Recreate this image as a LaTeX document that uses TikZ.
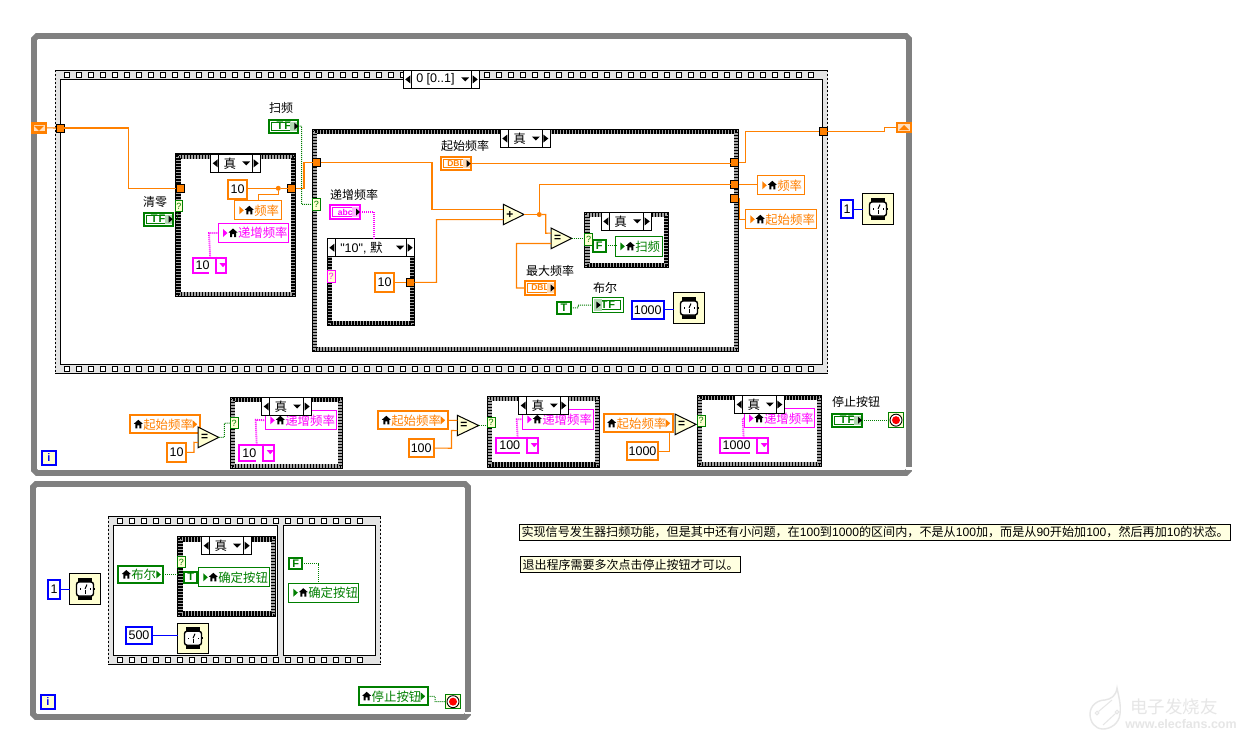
\documentclass[tikz,border=0pt]{standalone}
\usepackage{fontspec}
\setmainfont{Noto Sans CJK SC}
\newfontfamily\lat{Liberation Sans}
\usetikzlibrary{calc}
\definecolor{og}{HTML}{FF8000}
\definecolor{gn}{HTML}{007F00}
\definecolor{mg}{HTML}{FF00FF}
\definecolor{bl}{HTML}{0000FF}
\definecolor{wf}{HTML}{808080}
\definecolor{pale}{HTML}{FFFFD2}
\definecolor{band}{HTML}{E4E4E4}
\definecolor{notefill}{HTML}{FFFFE1}
\definecolor{wm}{HTML}{E6E6E6}
\tikzset{
  lab/.style={font=\fontsize{12}{14}\selectfont,inner sep=0pt,text=black},
  owire/.style={og,line width=1.1},
  gwire/.style={gn,line width=1,dash pattern=on 1pt off 1pt},
  mwire/.style={mg,line width=1.8,dash pattern=on 1pt off 1pt},
  bwire/.style={bl,line width=1.1},
  chk/.style={black,line width=1.5,dash pattern=on 1.5pt off 1.5pt},
  note/.style={draw=black,line width=1,fill=notefill,text=black}
}
\newcommand\tfword{\fontsize{11}{11}\selectfont T\kern1pt F}
% inset, name, style, x1,y1,x2,y2, text
\newcommand\bxi[8]{%
  \pgfmathsetmacro\bxW{#6-#4-2*#1}\pgfmathsetmacro\bxH{#7-#5-2*#1}%
  \pgfmathsetmacro\bxCx{(#4+#6)/2}\pgfmathsetmacro\bxCy{(#5+#7)/2}%
  \node[minimum width=\bxW pt,minimum height=\bxH pt,inner sep=0pt,outer sep=0pt,#3] (#2) at (\bxCx,\bxCy) {#8};}
\newcommand\caseframe[5]{%
  \bxi{0}{#1}{fill=white}{#2}{#3}{#4}{#5}{}
  \draw[gray!70,line width=4.4] ($(#1.north west)+(2.8,2.8)$) rectangle ($(#1.south east)+(-2.8,-2.8)$);
  \draw[chk] ($(#1.north west)+(1.3,1.3)$) rectangle ($(#1.south east)+(-1.3,-1.3)$);
  \draw[chk,dash phase=1.5pt] ($(#1.north west)+(2.8,2.8)$) rectangle ($(#1.south east)+(-2.8,-2.8)$);
  \draw[chk] ($(#1.north west)+(4.3,4.3)$) rectangle ($(#1.south east)+(-4.3,-4.3)$);
  \draw[black,line width=1.2] (#1.north west) rectangle (#1.south east);}
% name, x1, x2, ytop, text
\newcommand\casesel[5]{%
  \pgfmathsetmacro\selB{#4+18}%
  \bxi{0}{#1}{draw=black,line width=1.1,fill=white,text=black,font=\fontsize{12.5}{14}\selectfont}{#2}{#4}{#3}{\selB}{\makebox[\bxW pt][l]{\hspace*{13pt}#5}}
  \draw[black,line width=1] ($(#1.north west)+(8,0)$) -- ($(#1.south west)+(8,0)$);
  \draw[black,line width=1] ($(#1.north east)+(-8,0)$) -- ($(#1.south east)+(-8,0)$);
  \fill[black] ($(#1.west)+(2,0)$) -- ($(#1.west)+(7,-4)$) -- ($(#1.west)+(7,4)$) -- cycle;
  \fill[black] ($(#1.east)+(-2,0)$) -- ($(#1.east)+(-7,-4)$) -- ($(#1.east)+(-7,4)$) -- cycle;
  \fill[black] ($(#1.east)+(-18.5,-2)$) -- ($(#1.east)+(-10.5,-2)$) -- ($(#1.east)+(-14.5,2)$) -- cycle;}
\newcommand\seqband[5]{%
  \bxi{0}{#1}{fill=band}{#2}{#3}{#4}{#5}{}
  \draw[black,line width=1] (#1.north west) -- (#1.north east);
  \draw[black,line width=1] (#1.south west) -- (#1.south east);
  \draw[black,line width=1,dash pattern=on 2pt off 2pt] (#1.north west) -- (#1.south west);
  \draw[black,line width=1,dash pattern=on 2pt off 2pt] (#1.north east) -- (#1.south east);
  \pgfmathsetmacro\sqa{#2+12}\pgfmathsetmacro\sqb{#2+24}\pgfmathsetmacro\sqe{#4-9}%
  \pgfmathsetmacro\sqt{#3+4.5}\pgfmathsetmacro\sqd{#5-4.5}%
  \foreach \sx in {\sqa,\sqb,...,\sqe}{
    \draw[black,line width=1,fill=white] (\sx-2.5,\sqt-2.5) rectangle (\sx+2.5,\sqt+2.5);
    \draw[black,line width=1,fill=white] (\sx-2.5,\sqd-2.5) rectangle (\sx+2.5,\sqd+2.5);}}
\newcommand\tun[3]{%
  \node[minimum size=8pt,inner sep=0pt,outer sep=0pt,draw=black,line width=1,fill=og] (#1) at (#2,#3) {};}
\newcommand\qterm[6]{%
  \bxi{0}{#1}{draw=#6,line width=.8,fill=pale,text=#6,font=\lat\fontsize{9}{9}\selectfont}{#2}{#3}{#4}{#5}{?}}
\newcommand\waiticon[5]{%
  \bxi{.5}{#1}{draw=black,line width=1,fill=pale}{#2}{#3}{#4}{#5}{}
  \fill[black] ($(#1.center)+(-7,-11)$) rectangle ($(#1.center)+(7,-6)$);
  \fill[black] ($(#1.center)+(-7,6)$) rectangle ($(#1.center)+(7,11)$);
  \fill[black] ($(#1.center)+(8,-1)$) rectangle ($(#1.center)+(10,1)$);
  \draw[black,line width=1.4,fill=white,rounded corners=2.5pt] ($(#1.center)+(-8.5,-7)$) rectangle ($(#1.center)+(8.5,7)$);
  \draw[black,line width=1] ($(#1.center)+(0,0)$) -- ($(#1.center)+(2,-4.5)$);
  \draw[black,line width=1] ($(#1.center)+(0,1)$) -- ($(#1.center)+(0,4.5)$);
  \fill[black] ($(#1.center)+(-5,-.6)$) rectangle ($(#1.center)+(-4,.6)$);
  \fill[black] ($(#1.center)+(4.5,-.6)$) rectangle ($(#1.center)+(5.5,.6)$);}
\newcommand\stopicon[5]{%
  \bxi{.5}{#1}{draw=gn,line width=1,fill=pale}{#2}{#3}{#4}{#5}{}
  \draw[black,line width=.9,fill=white] (#1.center) circle (6pt);
  \fill[red] (#1.center) circle (4pt);}
\newcommand\lvhome[2]{%
  \fill[black,shift={($(#1.west)+(#2,0)$)}] (-4.5,-.5) -- (0,-4.5) -- (4.5,-.5) -- (3,-.5) -- (3,4) -- (1,4) -- (1,1) -- (-1,1) -- (-1,4) -- (-3,4) -- (-3,-.5) -- cycle;}
\newcommand\lvw[7]{%
  \bxi{.5}{#1}{draw=#6,line width=1,fill=white,text=#6,font=\fontsize{12.4}{14}\selectfont}{#2}{#3}{#4}{#5}{\makebox[\bxW pt][l]{\hspace*{19.5pt}#7}}
  \fill[#6] ($(#1.west)+(4.5,-4)$) -- ($(#1.west)+(4.5,4)$) -- ($(#1.west)+(9,0)$) -- cycle;
  \lvhome{#1}{14.5}}
\newcommand\lvr[7]{%
  \bxi{1}{#1}{draw=#6,line width=2,fill=white,text=#6,font=\fontsize{12.4}{14}\selectfont}{#2}{#3}{#4}{#5}{\makebox[\bxW pt][l]{\hspace*{13pt}#7}}
  \fill[#6] ($(#1.east)+(-7,-4)$) -- ($(#1.east)+(-7,4)$) -- ($(#1.east)+(-2.5,0)$) -- cycle;
  \lvhome{#1}{8}}
\newcommand\ctlc[8]{%
  \bxi{1}{#1}{draw=#6,line width=2,fill=white,text=#6,font=\lat\bfseries\selectfont}{#2}{#3}{#4}{#5}{#8}
  \draw[#6,line width=.8] ($(#1.north west)+(2.5,2.5)$) rectangle ($(#1.south east)+(-2.5,-2.5)$);
  \fill[#7] ($(#1.north east)+(-8,2)$) rectangle ($(#1.south east)+(-1,-2)$);
  \fill[black] ($(#1.east)+(-4,-3.5)$) -- ($(#1.east)+(-4,3.5)$) -- ($(#1.east)+(0,0)$) -- cycle;}
\newcommand\ctli[8]{%
  \bxi{.5}{#1}{draw=#6,line width=1,fill=white,text=#6,font=\lat\bfseries\selectfont}{#2}{#3}{#4}{#5}{#8}
  \draw[#6,line width=.8] ($(#1.north west)+(3,3)$) rectangle ($(#1.south east)+(-3,-3)$);
  \fill[#7] ($(#1.north west)+(1,1)$) rectangle ($(#1.south west)+(9,-1)$);
  \fill[black] ($(#1.west)+(3.5,-3.5)$) -- ($(#1.west)+(3.5,3.5)$) -- ($(#1.west)+(8,0)$) -- cycle;}
\newcommand\cst[7]{%
  \bxi{1}{#1}{draw=#2,line width=2,fill=white,text=black,font=\lat\fontsize{12.5}{14}\selectfont}{#3}{#4}{#5}{#6}{#7}}
\newcommand\bcst[7]{%
  \bxi{1}{#1}{draw=#2,line width=2.2,fill=white,text=#2,font=\lat\bfseries\fontsize{11}{11}\selectfont}{#3}{#4}{#5}{#6}{#7}}
% name x1 y1 x2 y2 divider text
\newcommand\dropd[7]{%
  \bxi{1}{#1}{draw=mg,line width=2,fill=white,text=black,font=\lat\fontsize{12.5}{14}\selectfont}{#2}{#3}{#4}{#5}{\makebox[\bxW pt][l]{\hspace*{3pt}#7}}
  \draw[mg,line width=2] (#6,#3) -- (#6,#5);
  \pgfmathsetmacro\ddg{#6-7}%
  \draw[white,line width=2.3] (\ddg,#5-1) -- (#6-1.2,#5-1);
  \fill[mg] (#6+3.5,#3+6.5) -- (#6+10.5,#3+6.5) -- (#6+7,#3+10.5) -- cycle;}
\newcommand\prim[6]{%
  \pgfmathsetmacro\prY{(#3+#5)/2}\pgfmathsetmacro\prA{#3+(#5-#3)*.25}\pgfmathsetmacro\prB{#3+(#5-#3)*.75}%
  \draw[black,line width=1,fill=pale] (#2,#3) -- (#4,\prY) -- (#2,#5) -- cycle;
  \bxi{0}{#1}{text=black,font=\lat\bfseries\fontsize{12}{12}\selectfont}{#2}{#3}{#4}{#5}{\makebox[\bxW pt][l]{\hspace*{3pt}#6}}
  \coordinate (#1-a) at (#2,\prA);
  \coordinate (#1-b) at (#2,\prB);}
\newcommand\ibox[5]{%
  \bxi{1}{#1}{draw=bl,line width=2,fill=pale,text=bl,font=\lat\bfseries\fontsize{11}{11}\selectfont}{#2}{#3}{#4}{#5}{i}}
\begin{document}
\begin{tikzpicture}[x=1pt,y=-1pt]
\useasboundingbox (0,0) rectangle (1237,740);
\fill[white] (0,0) rectangle (1237,740);
% ---------- outer while loops
\draw[wf,line width=5.8,fill=white] (34,39) -- (37,36) -- (906,36) -- (909,39) -- (909,470) -- (906,473) -- (37,473) -- (34,470) -- cycle;
\fill[white] (905.8,466.8) rectangle (912.2,469.6);
\draw[wf,line width=5.8,fill=white] (33,487) -- (36,484) -- (465,484) -- (468,487) -- (468,714) -- (465,717) -- (36,717) -- (33,714) -- cycle;
\fill[white] (464.8,711.5) rectangle (471.2,714);
% ---------- sequences
\seqband{seqA}{55}{70}{827.5}{373}
\bxi{0}{seqAin}{draw=black,line width=.8,fill=white}{60}{79}{822.5}{364}{}
\seqband{seqB}{108.3}{516.7}{380.7}{664.3}
\bxi{0}{seqB1}{draw=black,line width=.8,fill=white}{113.3}{525.7}{277.7}{655.3}{}
\bxi{0}{seqB2}{draw=black,line width=.8,fill=white}{283.3}{525.7}{375.7}{655.3}{}
% sequence selector
\casesel{selA}{403.3}{479.7}{70.4}{\lat 0 [0..1]}
% ---------- cases
\caseframe{c1}{175.7}{154}{295.7}{296.7}
\casesel{c1s}{210.7}{260.7}{154.3}{真}
\caseframe{c2}{312.3}{129.3}{738.7}{351.7}
\casesel{c2s}{500.3}{550.3}{129.5}{真}
\caseframe{c3}{327.3}{238.7}{414.7}{325.7}
\casesel{c3s}{327.3}{414.7}{238.7}{{\lat "10", }默}
\caseframe{c4}{584.7}{212.3}{668.7}{267.7}
\casesel{c4s}{601.3}{651.7}{212.4}{真}
\caseframe{c5}{230.3}{397.3}{342.7}{468.7}
\lvw{l5}{265.3}{410.3}{336.7}{430.3}{mg}{递增频率}
\casesel{c5s}{261.7}{311.7}{397.5}{真}
\caseframe{c6}{487.3}{396.3}{599.7}{467.3}
\lvw{l6}{522.3}{409}{593.7}{429.7}{mg}{递增频率}
\casesel{c6s}{518.7}{568.3}{396.5}{真}
\caseframe{c7}{697.3}{395.3}{821.7}{466.7}
\lvw{l7}{744}{408.3}{815.3}{428.3}{mg}{递增频率}
\casesel{c7s}{734.7}{784.3}{395.5}{真}
\caseframe{c8}{177.7}{536.7}{275.7}{616.3}
\casesel{c8s}{201.7}{251.7}{536.7}{真}
% ---------- shift registers
\bxi{1}{srL}{draw=og,line width=2.4,fill=og!25}{31.3}{122.3}{46.7}{133.3}{}
\fill[og] ($(srL.center)+(-5,-2)$) -- ($(srL.center)+(5,-2)$) -- ($(srL.center)+(0,3)$) -- cycle;
\bxi{1}{srR}{draw=og,line width=2.4,fill=og!25}{896}{122}{912}{133}{}
\fill[og] ($(srR.center)+(-5,2.5)$) -- ($(srR.center)+(5,2.5)$) -- ($(srR.center)+(0,-2.5)$) -- cycle;
% ---------- tunnels
\tun{tA}{60}{128}
\tun{t1i}{180}{188.3}
\tun{t1o}{291.7}{188.3}
\tun{t2i}{316.7}{162.3}
\tun{t3}{410.3}{282.3}
\tun{tR1}{734.5}{162.3}
\tun{tR2}{734.5}{184.5}
\tun{tR3}{734.5}{198.5}
\tun{tO}{823.3}{131.3}
% ---------- case 1 contents
\cst{k1}{og}{227.3}{179.3}{247.7}{199.7}{10}
\lvw{lf1}{234.3}{200.3}{281.7}{220.3}{og}{频率}
\lvw{lm1}{218}{223}{289}{243}{mg}{递增频率}
\dropd{d1}{191.7}{256.7}{227.3}{274.3}{216}{10}
\qterm{q1}{175}{200.7}{182.7}{211.3}{gn}
\ctlc{tfz}{142.7}{211.7}{173.7}{226.7}{gn}{gn!30}{\tfword}
\node[lab] (lz) at (155,202) {清零};
\node[lab] (ls) at (281,108) {扫频};
\ctlc{tfs}{268.3}{118.7}{299.3}{133.7}{gn}{gn!30}{\tfword}
\node[circle,fill=og,inner sep=0pt,minimum size=5pt,outer sep=0pt] (j1) at (278.3,188.3) {};
% ---------- case 2 contents
\qterm{q2}{312.5}{198.5}{320}{210}{gn}
\node[lab] (lst) at (465,146) {起始频率};
\ctlc{dst}{440.3}{156}{471.7}{171.3}{og}{og!30}{\fontsize{8.5}{8.5}\selectfont DBL}
\node[lab] (lin) at (354,195) {递增频率};
\ctlc{abc}{329.3}{204.3}{361}{219.7}{mg}{mg!30}{\fontsize{8.5}{8.5}\selectfont abc}
\qterm{q3}{327.3}{270}{335}{282}{mg}
\cst{k3}{og}{374.3}{272.3}{395}{292.7}{10}
\prim{add}{503.3}{204.3}{524}{224.7}{+}
\prim{eq0}{551}{228}{571.7}{248.7}{=}
\node[circle,fill=og,inner sep=0pt,minimum size=5pt,outer sep=0pt] (j2) at (539.3,214.5) {};
\node[lab] (lmx) at (550,271) {最大频率};
\ctlc{dmx}{524.3}{280.3}{555.7}{295.7}{og}{og!30}{\fontsize{8.5}{8.5}\selectfont DBL}
\qterm{q4}{584.7}{233}{592.3}{245}{gn}
\bcst{fa}{gn}{591.7}{239}{606.7}{252.7}{F}
\lvw{lsp}{615.3}{236}{662.7}{256.7}{gn}{扫频}
\bcst{tb}{gn}{556}{301}{572}{314.7}{T}
\node[lab] (lbe) at (605,288) {布尔};
\ctli{boo}{592.3}{297.3}{623.7}{312.7}{gn}{gn!30}{\tfword}
\cst{b1k}{bl}{630.7}{299.7}{664.7}{319.7}{1000}
\waiticon{w1}{673.3}{292.3}{704.7}{323.7}
% ---------- right of sequence
\lvw{lfo}{757.3}{175.3}{804.7}{195.3}{og}{频率}
\lvw{lso}{745.3}{209.3}{816.7}{229.3}{og}{起始频率}
\cst{b2k}{bl}{840.3}{199.3}{853.7}{219.3}{1}
\waiticon{w2}{862.3}{193.3}{893.7}{224.7}
% ---------- bottom row
\ibox{iA}{41}{450.3}{56.7}{465.7}
\lvr{r1}{129.3}{414.3}{200.7}{434.3}{og}{起始频率}
\prim{e1}{198}{427}{218.7}{447.7}{=}
\cst{k5}{og}{166.3}{442}{186.7}{462.7}{10}
\qterm{q5}{230.3}{417.3}{238}{428.7}{gn}
\dropd{d5}{238.3}{443.7}{274.7}{461.7}{263.3}{10}
\lvr{r2}{377.3}{410.3}{448.7}{430.3}{og}{起始频率}
\prim{e2}{457.3}{415.3}{478.7}{435.7}{=}
\cst{k6}{og}{407.7}{438}{434.7}{458.3}{100}
\qterm{q6}{487.3}{417}{495}{427.7}{gn}
\dropd{d6}{495.3}{436.7}{538.7}{454.3}{527.3}{100}
\lvr{r3}{602.7}{413.3}{673.7}{433.3}{og}{起始频率}
\prim{e3}{675}{414}{696}{434.7}{=}
\cst{k7}{og}{625.7}{441.3}{659.3}{461.3}{1000}
\qterm{q7}{697.3}{415.3}{705}{426}{gn}
\dropd{d7}{718.7}{436.7}{768.7}{454.3}{757.3}{1000}
\node[lab] (lstp) at (856,402) {停止按钮};
\ctlc{tst}{831.3}{412.7}{863}{427.7}{gn}{gn!30}{\tfword}
\stopicon{st1}{888.3}{412.3}{903.7}{428}
% ---------- second loop
\cst{b3k}{bl}{47.3}{579}{60.7}{599.7}{1}
\waiticon{w3}{69.3}{573.3}{100.7}{604.7}
\lvr{rb}{117.3}{564.7}{164.3}{584.3}{gn}{布尔}
\qterm{q8}{177.7}{556.7}{185}{567.3}{gn}
\bcst{tc}{gn}{183.3}{570.7}{198.3}{583.7}{T}
\lvw{lk1}{198.3}{567.3}{269.7}{587.3}{gn}{确定按钮}
\cst{b4k}{bl}{125.3}{625.7}{152.7}{645.3}{500}
\waiticon{w4}{177.3}{622.7}{208.7}{653.7}
\bcst{fc}{gn}{288.3}{557.3}{303.3}{570.3}{F}
\lvw{lk2}{288.3}{582.7}{359.3}{602.7}{gn}{确定按钮}
\lvr{rst}{357.7}{686.3}{428.7}{706.3}{gn}{停止按钮}
\stopicon{st2}{445.3}{694}{460.7}{709.3}
\ibox{iB}{40.3}{694.3}{55.7}{709.7}
% ---------- notes
\bxi{.5}{n1}{note,font=\fontsize{12.1}{14}\selectfont}{519}{524}{1231}{541}{\makebox[\bxW pt][l]{\hspace*{2pt}实现信号发生器扫频功能，但是其中还有小问题，在{\lat 100}到{\lat 1000}的区间内，不是从{\lat 100}加，而是从{\lat 90}开始加{\lat 100}，然后再加{\lat 10}的状态。}}
\bxi{.5}{n2}{note,font=\fontsize{12}{14}\selectfont}{520}{556}{741}{573}{\makebox[\bxW pt][l]{\hspace*{2pt}退出程序需要多次点击停止按钮才可以。}}
% ---------- wires
\draw[owire] (srL.east) -- (tA.west);
\draw[owire] (tA.east) -- (128.3,128) -- (128.3,188.3) -- (t1i.west);
\draw[owire] (k1.east |- j1) -- (j1);
\draw[owire] (j1) -- (t1o.west);
\draw[owire] (j1) -- (278.3,194.5) -- (258.3,194.5) -- (258.3,200.3);
\draw[mwire] ($(d1.north west)+(17.5,0)$) -- (209,233) -- (lm1.west);
\draw[gwire] (tfz.east) -- (177.5,219.2) -- (q1.south -| 177.5,0);
\draw[gwire] (tfs.east) -- (301.7,126.2) -- (301.7,204.3) -- (q2.west);
\draw[owire] (t1o.east) -- (304,188.3) -- (304,162.3) -- (t2i.west);
\draw[owire] (t2i.east) -- (432,162.3) -- (432,209.4) -- (add-a);
\draw[owire] (t3.east) -- (436.5,282.3) -- (436.5,219.6) -- (add-b);
\draw[owire] (k3.east |- t3.west) -- (t3.west);
\draw[owire] (add.east) -- (j2);
\draw[owire] (j2) -- (539.3,184.5) -- (tR2.west);
\draw[owire] (j2) -- (545.7,214.5) -- (545.7,233.2) -- (eq0-a);
\draw[owire] (dmx.west) -- (516.5,288) -- (516.5,243.5) -- (eq0-b);
\draw[owire] (dst.east) -- (tR1.west |- dst.east);
\draw[owire] (tR2.east) -- (lfo.west |- tR2.east);
\draw[owire] (tR3.east) -- (739.7,198.5) -- (739.7,219.3) -- (lso.west);
\draw[owire] (tR1.east) -- (745.7,162.3) -- (745.7,131.3) -- (tO.west);
\draw[owire] (tO.east) -- (884.3,131.3) -- (884.3,127.5) -- (srR.west);
\draw[mwire] (abc.east) -- (374,212) -- (374,238.7);
\draw[gwire] (eq0.east) -- (q4.west |- eq0.east);
\draw[gwire] (fa.east) -- (lsp.west |- fa.east);
\draw[gwire] (tb.east) -- (578,307.8) -- (578,305) -- (boo.west);
\draw[bwire] (b1k.east) -- (w1.west |- b1k.east);
\draw[bwire] (b2k.east) -- (w2.west |- b2k.east);
\draw[owire] (k5.east) -- (194,452.3) -- (194,442.3) -- (e1-b);
\draw[gwire] (e1.east) -- (224.3,437.3) -- (224.3,423.3) -- (q5.west);
\draw[mwire] ($(d5.north west)+(17.4,0)$) -- (255.7,419.8) -- (l5.west);
\draw[owire] (r2.east) -- (e2-a);
\draw[owire] (k6.east) -- (451.5,448.2) -- (451.5,430.5) -- (e2-b);
\draw[gwire] (e2.east) -- (q6.west |- e2.east);
\draw[mwire] ($(d6.north west)+(21.4,0)$) -- (516.7,419.3) -- (l6.west);
\draw[owire] (k7.east) -- (669.3,451.3) -- (669.3,433.3);
\draw[mwire] ($(d7.north west)+(24,0)$) -- (742.7,418.3) -- (l7.west);
\draw[gwire] (tst.east) -- (st1.west |- tst.east);
\draw[bwire] (b3k.east) -- (w3.west |- b3k.east);
\draw[bwire] (b4k.east) -- (w4.west |- b4k.east);
\draw[gwire] (rb.east) -- (178.5,574.5) -- (178.5,567.3);
\draw[gwire] (fc.east) -- (318.7,563.8) -- (318.7,582.7);
\draw[gwire] (rst.east) -- (435,696.3) -- (435,701.7) -- (st2.west);
% ---------- watermark
\draw[wm,line width=1.4] (1117,688) .. controls (1119,698) and (1121,704) .. (1120,714) .. controls (1119,724) and (1110,729) .. (1103,729) .. controls (1095,729) and (1090,722) .. (1090,714) .. controls (1090,706) and (1097,700) .. (1105,700) .. controls (1111,699) and (1116,696) .. (1117,688) -- cycle;
\draw[wm,line width=1] (1097,713) circle (1.8pt);
\draw[wm,line width=1] (1117,712) circle (1.8pt);
\draw[wm,line width=1] (1098.5,711.5) -- (1112,700);
\draw[wm,line width=1] (1115.5,713.5) -- (1103,725);
\node[inner sep=0pt,text=wm,font=\fontsize{17.5}{18}\selectfont] (wm1) at (1174,707) {电子发烧友};
\node[inner sep=0pt,text=wm,font=\lat\bfseries\fontsize{12.5}{13}\selectfont] (wm2) at (1181,724) {www.elecfans.com};
\end{tikzpicture}
\end{document}
